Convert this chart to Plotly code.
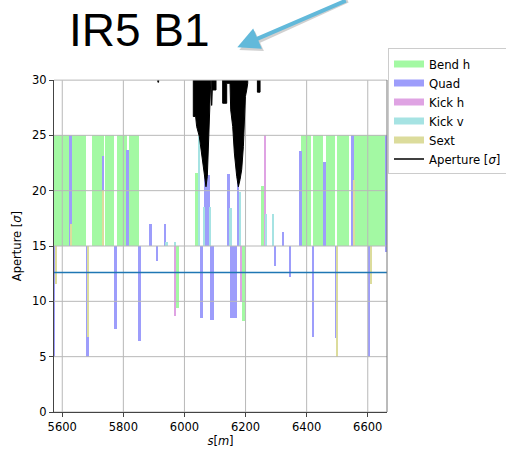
import plotly.graph_objects as go

# ---------------- axes ----------------
x_range = [5573, 6663]
y_range = [0, 30]
x_ticks = [5600, 5800, 6000, 6200, 6400, 6600]
y_ticks = [0, 5, 10, 15, 20, 25, 30]
bar_base = 15
n1_level = 12.6

# ---------------- elements (start s, end s, aperture value) ----------------
bend_start = [5560, 5699, 5740, 5780, 5819, 5972, 6034, 6188.5, 6251, 6383, 6420, 6464, 6500, 6546]
bend_end   = [5679, 5736, 5771, 5812.5, 5851, 5981, 6045, 6199, 6260, 6415, 6453, 6494, 6539, 6680]
bend_val   = [25, 25, 25, 25, 25, 9.4, 21.6, 8.2, 20.4, 25, 25, 25, 25, 25]

quad_start = [5572, 5624.6, 5679.3, 5728.5, 5769, 5808.2, 5848.5, 5886, 5905.6, 5933.8,
              6050.8, 6064, 6083.6, 6138.4, 6149.2, 6171, 6293.4, 6319.7, 6341.6, 6374.4,
              6417, 6455, 6493.4, 6548, 6599.3, 6656, 6656]
quad_end   = [5577, 5631, 5687, 5736, 5777.7, 5818, 5857.4, 5892.5, 5914, 5939.3,
              6061.6, 6083.6, 6096.7, 6149.2, 6171, 6179.7, 6301, 6326.2, 6349.2, 6385.2,
              6423.6, 6463, 6499, 6553.4, 6608.2, 6664, 6664]
quad_val   = [5.0, 25, 5.0, 23.1, 7.5, 23.7, 6.4, 17.0, 13.6, 17.0,
              8.45, 21.4, 8.35, 21.5, 8.45, 21.4, 13.2, 16.3, 12.2, 23.6,
              6.8, 22.6, 6.65, 25, 5.0, 25, 14.5]

kickh_start = [5966.6, 6182, 6260.7]
kickh_end   = [5972, 6188.5, 6266.2]
kickh_val   = [8.7, 9.9, 25]

kickv_start = [5939.3, 5969, 6047.5, 6063, 6081, 6149, 6179.7, 6265, 6289]
kickv_end   = [5945, 5971, 6051.8, 6066, 6084, 6155.5, 6185, 6270.5, 6294.4]
kickv_val   = [15.4, 15.4, 25, 18.5, 18.5, 18.4, 19.9, 17.9, 17.9]

sext_start = [5576.4, 5628, 5682.6, 5731, 6499, 6552, 6608]
sext_end   = [5579.7, 5631, 5687, 5734.4, 6502.3, 6555, 6611.5]
sext_val   = [11.6, 17.0, 6.8, 20.1, 5.0, 21.0, 11.6]

# aperture outline (regions above the curve are filled black), None separates pieces
aper_s = [6029, 6029, 6036.6, 6039.9, 6048.6, 6056.3, 6063.9, 6070.5, 6074.9, 6078.1, 6081.4, 6085.8, 6087.5, None,
          6089.1, 6089.1, 6091, 6091, 6103.3, 6103.3, None,
          6125.1, 6125.1, 6138.3, 6138.3, 6149.2, 6151.4, 6157.9, 6163.4, 6171, 6176.5, 6182, 6187.4,
          6192.9, 6196.2, 6199.5, 6203.8, 6207.1, 6207.1, None,
          6238.8, 6238.8, 6247.5, 6247.5, None,
          5913, 5913, 5915.5, 5915.5]
aper_v = [31, 26.7, 26.7, 25.8, 24.9, 23.4, 21.9, 20.35, 21.3, 23.4, 25.5, 27.9, 31, None,
          31, 27.7, 27.7, 29.1, 29.1, 31, None,
          31, 27.9, 27.9, 29.7, 29.7, 27.3, 25.8, 23.4, 21.3, 20.35, 21.0, 21.9,
          24.0, 26.4, 28.5, 29.1, 29.7, 31, None,
          31, 28.9, 28.9, 31, None,
          31, 29.8, 29.8, 31]

names  = ["Bend h", "Quad", "Kick h", "Kick v", "Sext"]
colors = ["#a3f9a3", "#9d9dfb", "#dfa3e3", "#a6e3e3", "#dcdc9c"]
groups = [(bend_start, bend_end, bend_val), (quad_start, quad_end, quad_val),
          (kickh_start, kickh_end, kickh_val), (kickv_start, kickv_end, kickv_val),
          (sext_start, sext_end, sext_val)]

FONT = "DejaVu Sans"
fig = go.Figure()

for name, col, (st, en, va) in zip(names, colors, groups):
    fig.add_trace(go.Bar(
        x=[(a + b) / 2 for a, b in zip(st, en)],
        width=[b - a for a, b in zip(st, en)],
        y=[v - bar_base for v in va],
        base=bar_base,
        marker=dict(color=col, line=dict(width=0)),
        name=name, showlegend=False, hoverinfo="skip"))

# grid lines (drawn above the bars, below the lines)
gx, gy = [], []
for t in x_ticks:
    gx += [t, t, None]
    gy += [y_range[0], y_range[1], None]
for t in y_ticks:
    gx += [x_range[0], x_range[1], None]
    gy += [t, t, None]
fig.add_trace(go.Scatter(x=gx, y=gy, mode="lines", line=dict(color="#b8b8b8", width=1),
                         showlegend=False, hoverinfo="skip"))

# aperture
fig.add_trace(go.Scatter(x=aper_s, y=aper_v, mode="lines", fill="toself", fillcolor="black",
                         line=dict(color="black", width=1), showlegend=False, hoverinfo="skip"))

# n1 level line
fig.add_trace(go.Scatter(x=x_range, y=[n1_level, n1_level], mode="lines",
                         line=dict(color="#1f77b4", width=1.6), showlegend=False, hoverinfo="skip"))

# legend entries
for name, col in zip(names, colors):
    fig.add_trace(go.Scatter(x=[None], y=[None], mode="lines", name=name,
                             line=dict(color=col, width=7)))
fig.add_trace(go.Scatter(x=[None], y=[None], mode="lines", name="Aperture [<i>σ</i>]",
                         line=dict(color="black", width=1.5)))

# frame top/right
fig.add_shape(type="line", xref="paper", yref="paper", x0=0, x1=1, y0=1, y1=1,
              line=dict(color="#c8c8c8", width=1))
fig.add_shape(type="line", xref="paper", yref="paper", x0=1, x1=1, y0=0, y1=1,
              line=dict(color="#777777", width=1))

fig.update_layout(
    width=506, height=452,
    margin=dict(l=54, r=119, t=80, b=40, autoexpand=False),
    paper_bgcolor="white", plot_bgcolor="white",
    barmode="overlay", bargap=0,
    font=dict(family=FONT, size=11.5, color="black"),
    showlegend=True,
    legend=dict(x=1.003, y=1.095, xanchor="left", yanchor="top",
                bgcolor="white", bordercolor="#cccccc", borderwidth=1,
                font=dict(family=FONT, size=11.7, color="black"),
                traceorder="normal", itemwidth=30),
    xaxis=dict(range=x_range, tickvals=x_ticks, ticktext=[str(t) for t in x_ticks],
               showgrid=False, zeroline=False, showline=True, linecolor="#444444", linewidth=1,
               ticks="outside", ticklen=4, tickcolor="#444444", automargin=False,
               tickfont=dict(size=11.5),
               title=dict(text="<i>s</i>[<i>m</i>]", standoff=3, font=dict(size=11.5))),
    yaxis=dict(range=y_range, tickvals=y_ticks, ticktext=[str(t) for t in y_ticks],
               showgrid=False, zeroline=False, showline=True, linecolor="#444444", linewidth=1,
               ticks="outside", ticklen=4, tickcolor="#444444", automargin=False,
               tickfont=dict(size=11.5),
               title=dict(text="Aperture [<i>σ</i>]", standoff=8, font=dict(size=11.5))),
    annotations=[
        dict(text="IR5 B1", xref="paper", yref="paper", x=0.258, y=1.152,
             xanchor="center", yanchor="middle", showarrow=False,
             font=dict(family="Liberation Sans", size=46, color="black")),
        dict(text="", xref="paper", yref="paper", x=0.5565, y=1.090,
             ax=110, ay=-52, showarrow=True, arrowhead=2, arrowsize=1.1, arrowwidth=4,
             arrowcolor="rgba(0,0,0,0.18)", standoff=0),
        dict(text="", xref="paper", yref="paper", x=0.5505, y=1.0985,
             ax=110, ay=-52, showarrow=True, arrowhead=2, arrowsize=1.1, arrowwidth=4,
             arrowcolor="#62b9da", standoff=0),
    ],
)

fig.write_html("out.html")
